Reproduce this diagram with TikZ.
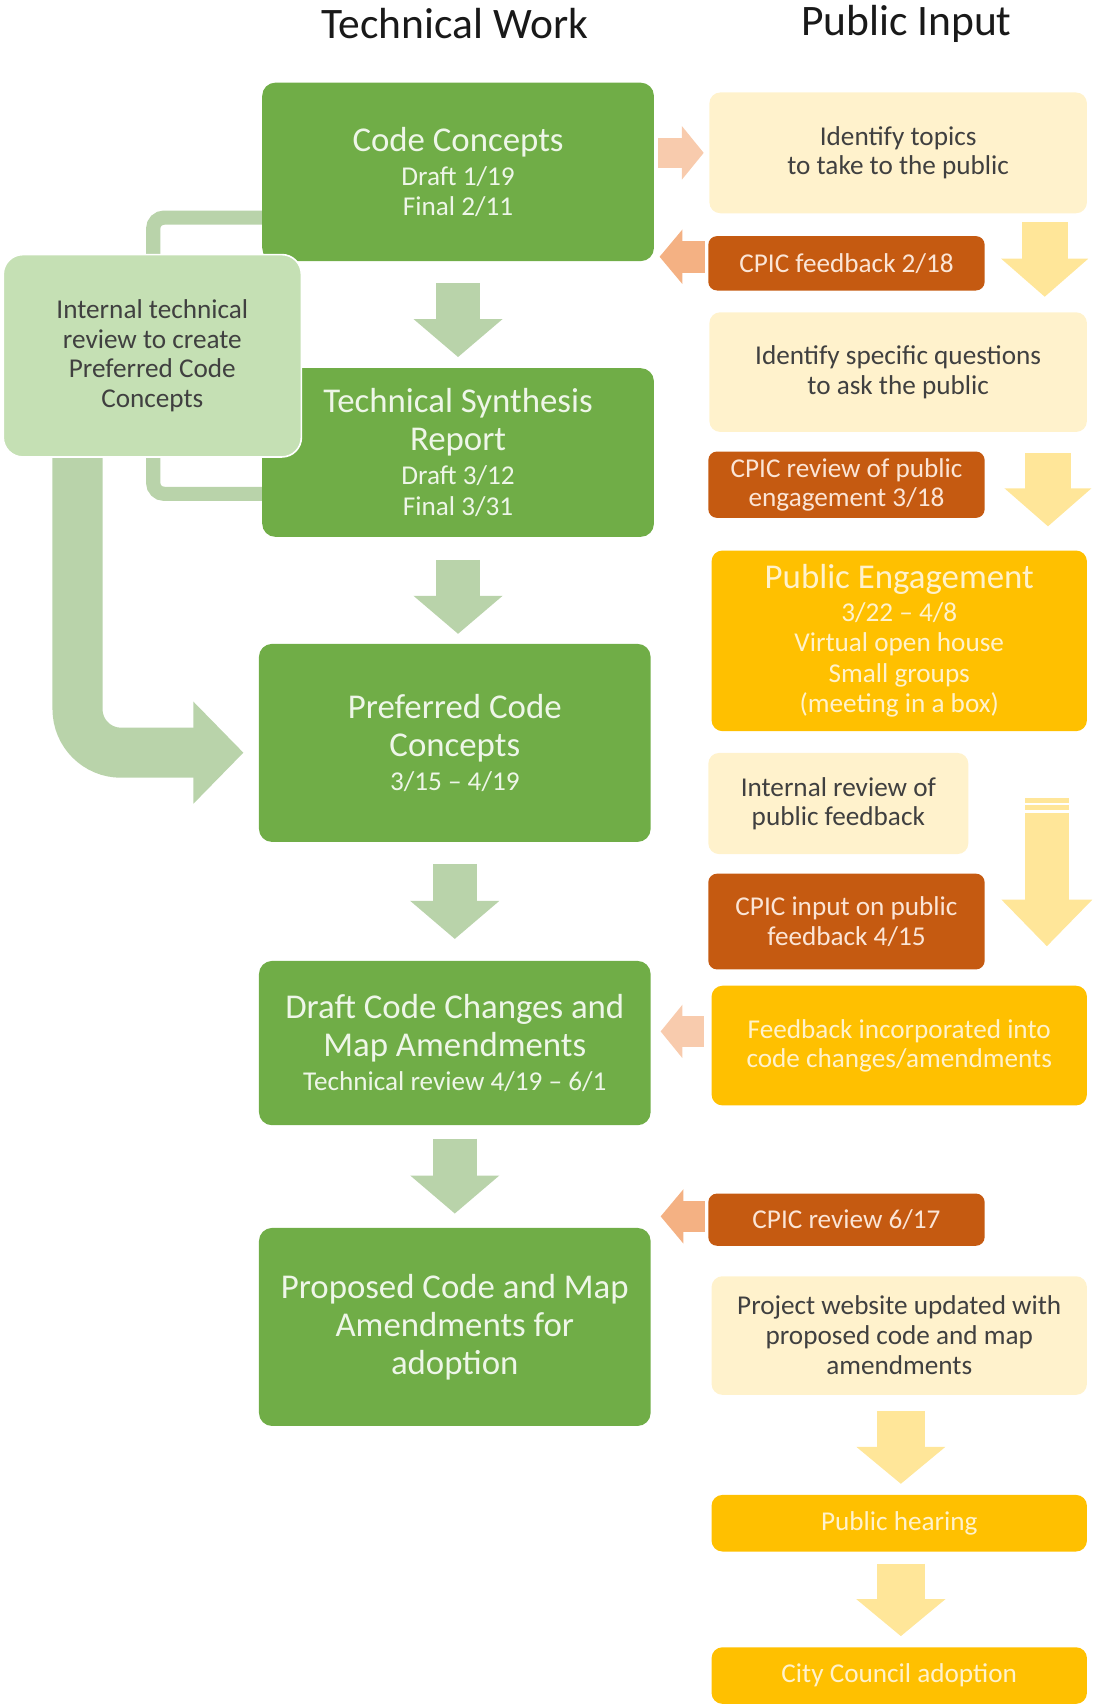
\documentclass[tikz,border=0pt]{standalone}
\usepackage{fontspec}
\setmainfont{Carlito}
\usetikzlibrary{arrows.meta, calc, positioning, backgrounds}

\definecolor{techgreen}{HTML}{70AD47}
\definecolor{techtext}{HTML}{EEF6E8}
\definecolor{reviewgreen}{HTML}{C5E0B4}
\definecolor{arrowgreen}{HTML}{B9D3AA}
\definecolor{cream}{HTML}{FFF2CC}
\definecolor{darkgraytext}{HTML}{404040}
\definecolor{cpicorange}{HTML}{C55A11}
\definecolor{cpictext}{HTML}{FBE5D6}
\definecolor{amber}{HTML}{FFC000}
\definecolor{arrowyellow}{HTML}{FFE699}
\definecolor{peachlight}{HTML}{F8CBAD}
\definecolor{peachdark}{HTML}{F4B183}

\newcommand{\headline}[1]{{\fontsize{32}{35}\selectfont #1}}

\tikzset{
  coltitle/.style={font=\fontsize{40}{44}\selectfont, text=black!90},
  techbox/.style={fill=techgreen, text=techtext, rounded corners=12pt, minimum width=360pt, align=center, inner sep=0pt, font=\fontsize{25}{28}\selectfont},
  reviewbox/.style={fill=reviewgreen, draw=white, line width=1.5pt, text=darkgraytext, rounded corners=18pt, align=center, inner sep=0pt, font=\fontsize{25}{27.5}\selectfont},
  pubbox/.style={fill=cream, text=darkgraytext, rounded corners=10pt, align=center, inner sep=0pt, font=\fontsize{25}{27}\selectfont},
  cpicbox/.style={fill=cpicorange, text=cpictext, rounded corners=8pt, minimum width=254pt, align=center, inner sep=0pt, font=\fontsize{25}{27}\selectfont},
  eventbox/.style={fill=amber, text=cream, rounded corners=10pt, minimum width=345pt, align=center, inner sep=0pt, font=\fontsize{25}{28}\selectfont},
  downgreen/.style={draw=arrowgreen, line width=40pt, -{Triangle[length=35pt, width=80pt]}},
  curvegreen/.style={draw=arrowgreen, line width=46pt, rounded corners=40pt, -{Triangle[length=46pt, width=91pt]}},
  bracketline/.style={draw=arrowgreen, line width=13pt, rounded corners=10pt},
  downyellow/.style={draw=arrowyellow, line width=42pt, -{Triangle[length=35pt, width=78pt]}},
  sidelight/.style={draw=peachlight, line width=28pt, -{Triangle[length=20pt, width=48pt]}},
  sidedark/.style={draw=peachdark, line width=29pt, -{Triangle[length=21pt, width=49pt]}},
}

\begin{document}
\begin{tikzpicture}[x=1pt, y=-1pt]
  \useasboundingbox (0,0) rectangle (1006,1568);

  % column titles
  \node[coltitle] (techtitle) at (418,22) {Technical Work};
  \node[coltitle] (pubtitle) at (833,22) {Public Input};

  % technical work column
  \node[techbox, minimum height=164pt] (cc) at (421,158) {\headline{Code Concepts}\\[3pt] Draft 1/19\\ Final 2/11};
  \node[techbox, minimum height=155pt, below=98pt of cc] (tsr) {\headline{Technical Synthesis}\\[7pt] \headline{Report}\\[3pt] Draft 3/12\\ Final 3/31};
  \node[techbox, minimum height=182pt, below=98pt of tsr, xshift=-3pt] (pcc) {\headline{Preferred Code}\\[7pt] \headline{Concepts}\\[3pt] 3/15 -- 4/19};
  \node[techbox, minimum height=151pt, below=109pt of pcc] (dcc) {\headline{Draft Code Changes and}\\[7pt] \headline{Map Amendments}\\[3pt] Technical review 4/19 -- 6/1};
  \node[techbox, minimum height=182pt, below=94pt of dcc] (pca) {\headline{Proposed Code and Map}\\[7pt] \headline{Amendments for}\\[7pt] \headline{adoption}};

  \node[reviewbox, minimum width=274pt, minimum height=186pt] (itr) at (140,327) {Internal technical\\ review to create\\ Preferred Code\\ Concepts};

  % public input column
  \node[pubbox, minimum width=347pt, minimum height=111pt] (topics) at (825.5,140.5) {Identify topics\\ to take to the public};
  \node[cpicbox, minimum height=50pt] (cpicfb) at (778,242) {CPIC feedback 2/18};
  \node[pubbox, minimum width=347pt, minimum height=110pt] (quest) at (825.5,342) {Identify specific questions\\ to ask the public};
  \node[cpicbox, minimum height=61pt] (cpicrev) at (778,445.5) {CPIC review of public\\ engagement 3/18};
  \node[eventbox, minimum height=166pt] (pe) at (826.5,589) {\headline{Public Engagement}\\[2pt] 3/22 -- 4/8\\ Virtual open house\\ Small groups\\ (meeting in a box)};
  \node[pubbox, minimum width=239pt, minimum height=93pt] (irpf) at (770.5,738.5) {Internal review of\\ public feedback};
  \node[cpicbox, minimum height=88pt] (cpicin) at (778,847) {CPIC input on public\\ feedback 4/15};
  \node[eventbox, minimum height=110pt, font=\fontsize{25}{27}\selectfont] (fi) at (826.5,961) {Feedback incorporated into\\ code changes/amendments};
  \node[cpicbox, minimum height=48pt] (cpicfin) at (778,1121) {CPIC review 6/17};
  \node[pubbox, minimum width=345pt, minimum height=109pt, font=\fontsize{25}{27.5}\selectfont] (web) at (826.5,1227.5) {Project website updated with\\ proposed code and map\\ amendments};
  \node[eventbox, minimum height=52pt] (hearing) at (826.5,1400) {Public hearing};
  \node[eventbox, minimum height=52pt] (council) at (826.5,1540) {City Council adoption};

  \begin{scope}[on background layer]
    % green flow
    \draw[bracketline] ([yshift=-42pt, xshift=10pt]cc.west) -- ++(-110,0) |- ([yshift=-38pt, xshift=10pt]tsr.west);
    \draw[downgreen, shorten <=20pt, shorten >=10pt] (cc.south) -- (tsr.north);
    \draw[downgreen, shorten <=21pt, shorten >=9pt] (tsr.south) -- (tsr.south |- pcc.north);
    \draw[downgreen, shorten <=20pt, shorten >=20pt] (pcc.south) -- (dcc.north);
    \draw[downgreen, shorten <=12pt, shorten >=13pt] (dcc.south) -- (pca.north);
    \draw[curvegreen, shorten >=14pt] ($(itr.south west)+(69,-10)$) |- ([yshift=-9pt]pcc.west);

    % between the columns
    \draw[sidelight, shorten <=4pt, shorten >=5pt] (cc.east |- topics.west) -- (topics.west);
    \draw[sidedark, shorten <=3pt, shorten >=5pt] ([yshift=6pt]cpicfb.west) -- ([yshift=6pt]cpicfb.west -| cc.east);
    \draw[sidelight, shorten <=7pt, shorten >=9pt] ([yshift=13pt]fi.west) -- ([yshift=13pt]fi.west -| dcc.east);
    \draw[sidedark, shorten <=3pt, shorten >=9pt] ([yshift=3pt]cpicfin.west) -- ([yshift=3pt]cpicfin.west -| pca.east);

    % public flow
    \draw[downyellow, shorten <=8pt, shorten >=14pt] ([xshift=-39pt]topics.south east) -- ([xshift=-39pt]quest.north east);
    \draw[downyellow, shorten <=19pt, shorten >=22pt] ([xshift=-36pt]quest.south east) -- ([xshift=-36pt]pe.north east);
    \coordinate (stripetop) at ([xshift=-37pt, yshift=-75pt]pe.south east);
    \draw[downyellow, line width=40pt, -{Triangle[length=43pt, width=81pt]}, shorten >=36pt] (stripetop) -- ([xshift=-37pt]fi.north east);
    \fill[arrowyellow] ($(stripetop)+(-20,-14)$) rectangle ($(stripetop)+(20,-9)$);
    \fill[arrowyellow] ($(stripetop)+(-20,-7)$) rectangle ($(stripetop)+(20,-3)$);
    \draw[downyellow, line width=44pt, -{Triangle[length=34pt, width=80pt]}, shorten <=15pt, shorten >=10pt] ([xshift=1.5pt]web.south) -- ([xshift=1.5pt]hearing.north);
    \draw[downyellow, line width=44pt, -{Triangle[length=34pt, width=80pt]}, shorten <=11pt, shorten >=10pt] ([xshift=1.5pt]hearing.south) -- ([xshift=1.5pt]council.north);
  \end{scope}
\end{tikzpicture}
\end{document}
